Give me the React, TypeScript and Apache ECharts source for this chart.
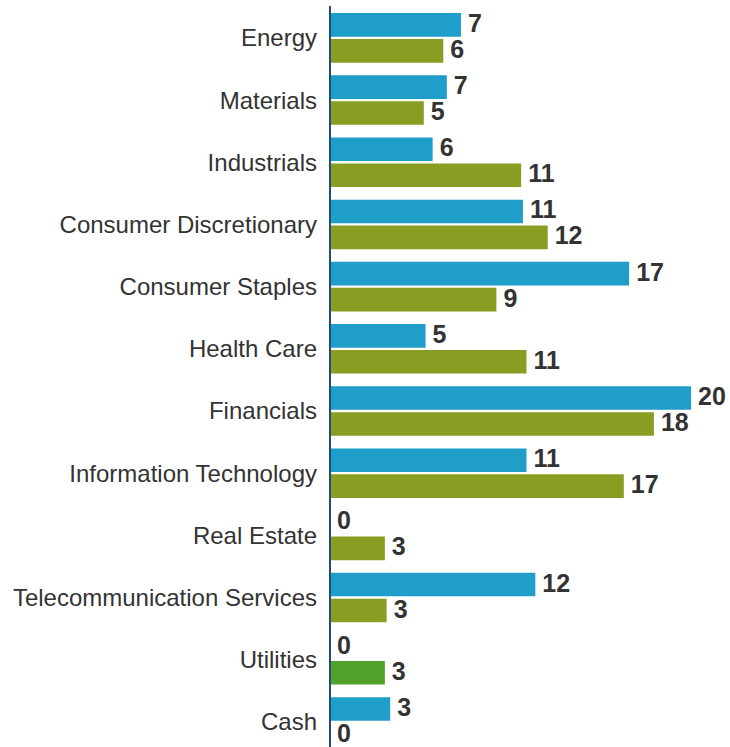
import React, { useEffect, useRef } from "react";
import * as echarts from "echarts";

const categories = [
  "Energy",
  "Materials",
  "Industrials",
  "Consumer Discretionary",
  "Consumer Staples",
  "Health Care",
  "Financials",
  "Information Technology",
  "Real Estate",
  "Telecommunication Services",
  "Utilities",
  "Cash",
];

const blueValues = [7.4, 6.6, 5.8, 10.9, 16.9, 5.4, 20.4, 11.1, 0, 11.6, 0, 3.4];
const greenValues = [6.4, 5.3, 10.8, 12.3, 9.4, 11.1, 18.3, 16.6, 3.1, 3.2, 3.1, 0];

const BLUE = "#1f9ec9";
const OLIVE = "#8a9d23";
const UTIL_GREEN = "#52a12a";

export default function App() {
  const ref = useRef<HTMLDivElement>(null);

  useEffect(() => {
    if (!ref.current) return;
    const chart = echarts.init(ref.current, null, { renderer: "svg" });
    const labelStyle = {
      show: true,
      position: "right" as const,
      distance: 7,
      offset: [0, -2],
      color: "#333333",
      fontFamily: "'Liberation Sans', Arial, sans-serif",
      fontWeight: "bold" as const,
      fontSize: 25,
      lineHeight: 22,
      formatter: (p: any) => String(Math.round(p.value)),
    };
    chart.setOption({
      animation: false,
      backgroundColor: "#ffffff",
      grid: {
        left: 330,
        right: 10.6,
        top: 6.8,
        height: 746.2,
        containLabel: false,
        outerBoundsMode: "none",
      },
      xAxis: {
        type: "value",
        min: 0,
        max: 22,
        show: false,
      },
      yAxis: {
        type: "category",
        data: categories,
        inverse: true,
        z: 3,
        axisLine: { show: true, lineStyle: { color: "#1b4f78", width: 2 } },
        axisTick: { show: false },
        axisLabel: {
          margin: 13,
          color: "#333333",
          fontFamily: "'Liberation Sans', Arial, sans-serif",
          fontSize: 24,
        },
        splitLine: { show: false },
      },
      series: [
        {
          type: "bar",
          data: blueValues,
          barWidth: 23.6,
          barGap: "10%",
          itemStyle: { color: BLUE },
          label: labelStyle,
        },
        {
          type: "bar",
          data: greenValues.map((v, i) =>
            categories[i] === "Utilities"
              ? { value: v, itemStyle: { color: UTIL_GREEN } }
              : v
          ),
          barWidth: 23.6,
          barGap: "10%",
          itemStyle: { color: OLIVE },
          label: labelStyle,
        },
      ],
    });
    return () => chart.dispose();
  }, []);

  return (
    <div
      ref={ref}
      style={{
        position: "fixed",
        left: 0,
        top: 0,
        width: 730,
        height: 747,
        background: "#ffffff",
      }}
    />
  );
}
